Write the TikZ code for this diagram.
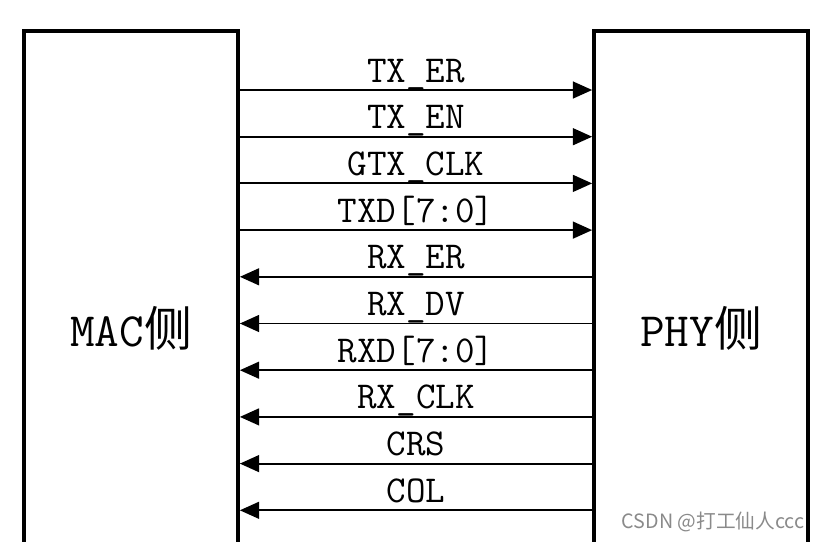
\documentclass[tikz,border=0pt]{standalone}
\usepackage{fontspec}
\newfontfamily\cjk{Noto Sans CJK SC}
\usetikzlibrary{arrows.meta,positioning}
\definecolor{MarkGray}{HTML}{8A8A8A}

\begin{document}
\begin{tikzpicture}[
  x=0.025cm, y=-0.025cm,
  side/.style={draw=black, line width=2.6pt, minimum width=5.35cm, minimum height=14.85cm, inner sep=0pt, font=\fontsize{34}{34}\selectfont\ttfamily},
  sigline/.style={line width=1.3pt, -{Triangle[length=0.48cm,width=0.42cm]}},
  siglabel/.style={font=\fontsize{27}{27}\selectfont\ttfamily, anchor=base, inner sep=0pt, yshift=0.2cm},
  watermark/.style={font=\cjk\fontsize{14}{14}\selectfont, text=MarkGray, inner sep=0pt}
]
\useasboundingbox (0,0) rectangle (819,541);
\clip (0,0) rectangle (819,541);

% the two sides
\node[side] (mac) at (131,328) {MAC{\cjk 侧}};
\node[side] (phy) at (701,328) {PHY{\cjk 侧}};

% transmit signals, MAC -> PHY
\foreach \sig [count=\i from 0, evaluate=\i as \y using 90+46.7*\i] in {TX\_ER,TX\_EN,GTX\_CLK,{TXD[7:0]}}
  \draw[sigline] (mac.east |- 0,\y) -- node[siglabel] {\sig} (phy.west |- 0,\y);

% receive signals, PHY -> MAC
\foreach \sig [count=\i from 4, evaluate=\i as \y using 90+46.7*\i] in {RX\_ER,RX\_DV,{RXD[7:0]},RX\_CLK,CRS,COL}
  \draw[sigline] (phy.west |- 0,\y) -- node[siglabel] {\sig} (mac.east |- 0,\y);

\node[watermark] (wm) at (713,522) {CSDN @打工仙人ccc};

\end{tikzpicture}
\end{document}
